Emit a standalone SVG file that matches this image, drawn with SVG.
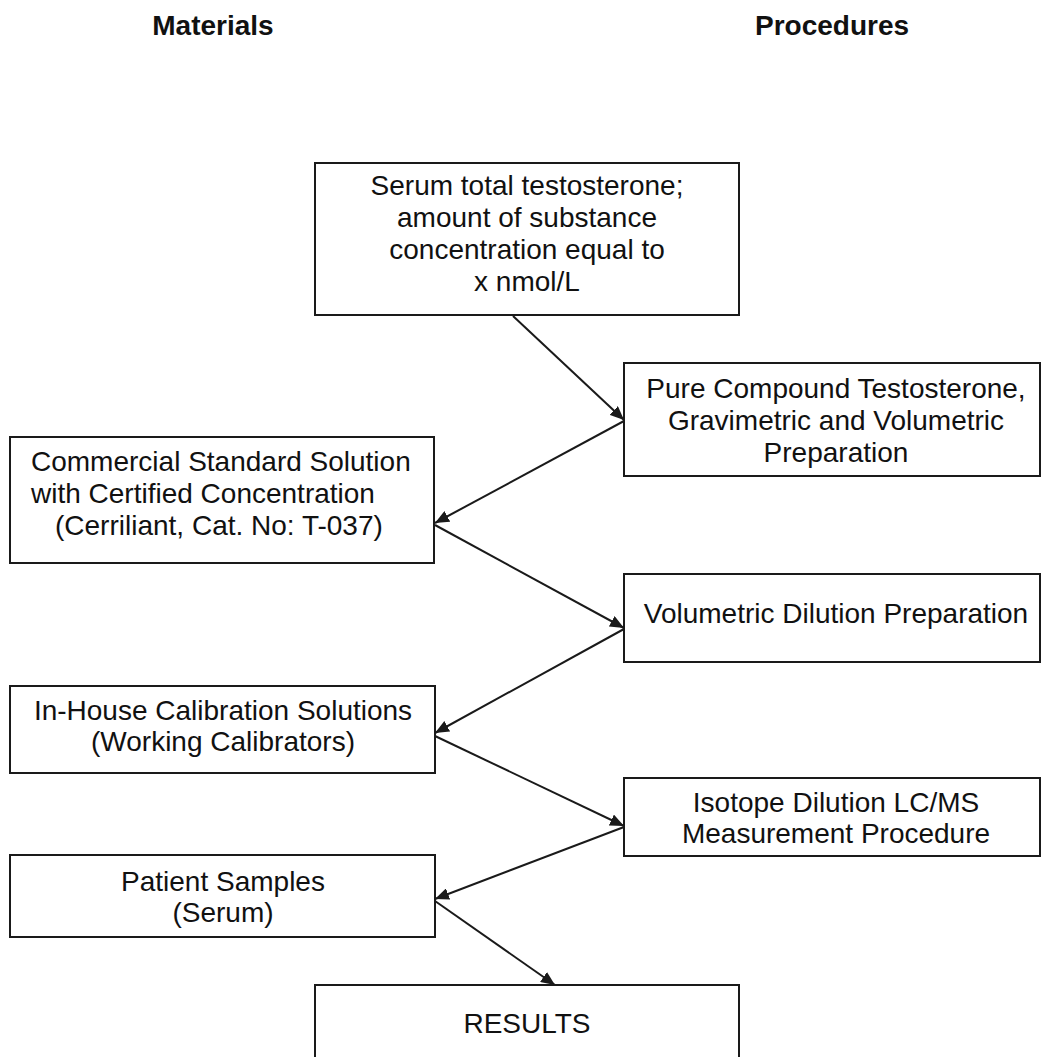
<svg xmlns="http://www.w3.org/2000/svg" width="1042" height="1057" viewBox="0 0 1042 1057">
<style>
.box{fill:#fff;stroke:#1a1a1a;stroke-width:2}
.t{font-family:"Liberation Sans",Arial,sans-serif;font-size:28px;fill:#111}
.c{text-anchor:middle}
.h{font-weight:bold}
.ln{stroke:#1a1a1a;stroke-width:2;fill:none;marker-end:url(#ah)}
</style>
<defs>
<marker id="ah" markerUnits="userSpaceOnUse" markerWidth="14" markerHeight="12" refX="14" refY="6" orient="auto">
<path d="M0,0 L14,6 L0,12 z" fill="#1a1a1a"/>
</marker>
</defs>
<rect width="1042" height="1057" fill="#fff"/>
<g id="headers">
<text class="t c h" x="213" y="35">Materials</text>
<text class="t c h" x="832" y="35">Procedures</text>
</g>
<g id="serum">
<rect class="box" x="315" y="163" width="424" height="152"/>
<text class="t c" x="527" y="195">Serum total testosterone;</text>
<text class="t c" x="527" y="227">amount of substance</text>
<text class="t c" x="527" y="259">concentration equal to</text>
<text class="t c" x="527" y="291">x nmol/L</text>
</g>
<g id="pure">
<rect class="box" x="624" y="363" width="416" height="113"/>
<text class="t c" x="836" y="398">Pure Compound Testosterone,</text>
<text class="t c" x="836" y="430">Gravimetric and Volumetric</text>
<text class="t c" x="836" y="462">Preparation</text>
</g>
<g id="commercial">
<rect class="box" x="10" y="437" width="424" height="126"/>
<text class="t" x="31" y="471">Commercial Standard Solution</text>
<text class="t" x="31" y="503">with Certified Concentration</text>
<text class="t" x="55" y="535">(Cerriliant, Cat. No: T-037)</text>
</g>
<g id="volumetric">
<rect class="box" x="624" y="574" width="416" height="88"/>
<text class="t c" x="836" y="623">Volumetric Dilution Preparation</text>
</g>
<g id="inhouse">
<rect class="box" x="10" y="686" width="425" height="87"/>
<text class="t c" x="223" y="720">In-House Calibration Solutions</text>
<text class="t c" x="223" y="751">(Working Calibrators)</text>
</g>
<g id="isotope">
<rect class="box" x="624" y="778" width="416" height="78"/>
<text class="t c" x="836" y="812">Isotope Dilution LC/MS</text>
<text class="t c" x="836" y="843">Measurement Procedure</text>
</g>
<g id="patient">
<rect class="box" x="10" y="855" width="425" height="82"/>
<text class="t c" x="223" y="891">Patient Samples</text>
<text class="t c" x="223" y="922">(Serum)</text>
</g>
<g id="results">
<rect class="box" x="315" y="985" width="424" height="90"/>
<text class="t c" x="527" y="1033">RESULTS</text>
</g>
<g id="connectors">
<line class="ln" x1="513" y1="316" x2="624" y2="420"/>
<line class="ln" x1="624" y1="421" x2="435" y2="523"/>
<line class="ln" x1="435" y1="525" x2="624" y2="628"/>
<line class="ln" x1="624" y1="629" x2="435" y2="733"/>
<line class="ln" x1="435" y1="736" x2="624" y2="826"/>
<line class="ln" x1="624" y1="827" x2="435" y2="899"/>
<line class="ln" x1="435" y1="901" x2="555" y2="985"/>
</g>
</svg>
